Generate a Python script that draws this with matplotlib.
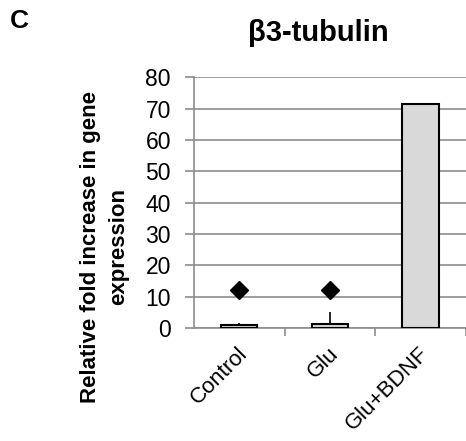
import numpy as np
import matplotlib.pyplot as plt
import matplotlib.transforms as mtransforms

plt.rcParams['font.family'] = ['Liberation Sans', 'DejaVu Sans']

categories = ["Control", "Glu", "Glu+BDNF"]
values = [1.0, 1.4, 71.3]
err_upper = [0.5, 3.6, 0.0]
marker_y = [12.3, 12.3]  # diamonds above Control and Glu

fig = plt.figure(figsize=(4.66, 4.41), dpi=100)
ax = fig.add_axes([0.416, 0.256, 0.584, 0.569])

x = np.arange(len(categories))
ax.bar(x, values, width=0.4, color="#d9d9d9", edgecolor="black", linewidth=1.5, zorder=3)
ax.errorbar(x[:2], values[:2], yerr=[[0, 0], err_upper[:2]], fmt="none",
            ecolor="black", elinewidth=1.2, capsize=0, zorder=4)
ax.plot(x[:2], marker_y, linestyle="none", marker="D", color="black", markersize=9, zorder=5)

ax.set_xlim(-0.5, 2.5)
ax.set_ylim(0, 80)
ax.set_yticks(np.arange(0, 81, 10))
ax.yaxis.grid(True, color="#8c8c8c", linewidth=1.2, zorder=0)
ax.set_axisbelow(True)

ax.set_xticks(x)
ax.set_xticklabels(categories, rotation=45, ha="right", rotation_mode="anchor", fontsize=16)
ax.tick_params(axis="x", length=0, pad=11)
shift = mtransforms.ScaledTranslation(-2 / 100, 0, fig.dpi_scale_trans)
for lbl in ax.get_xticklabels():
    lbl.set_transform(lbl.get_transform() + shift)
ax.set_xticks([0.5, 1.5, 2.5], minor=True)
ax.tick_params(axis="x", which="minor", length=6, color="#8c8c8c", width=1.2)
ax.tick_params(axis="y", labelsize=16.5, length=6.5, color="#8c8c8c", width=1.2, pad=10)

for s in ["top", "right"]:
    ax.spines[s].set_visible(False)
ax.spines["left"].set_color("#8c8c8c")
ax.spines["left"].set_linewidth(1.2)
ax.spines["bottom"].set_color("#8c8c8c")
ax.spines["bottom"].set_linewidth(1.2)

fig.text(0.225, 0.44, "Relative fold increase in gene\nexpression", fontsize=16, fontweight="bold",
         rotation=90, ha="center", va="center", multialignment="center", linespacing=1.45)

fig.text(0.684, 0.925, "β3-tubulin", fontsize=21, fontweight="bold", ha="center", va="center")
fig.text(0.041, 0.952, "C", fontsize=19, fontweight="bold", ha="center", va="center")

fig.savefig("out.png", dpi=100)
